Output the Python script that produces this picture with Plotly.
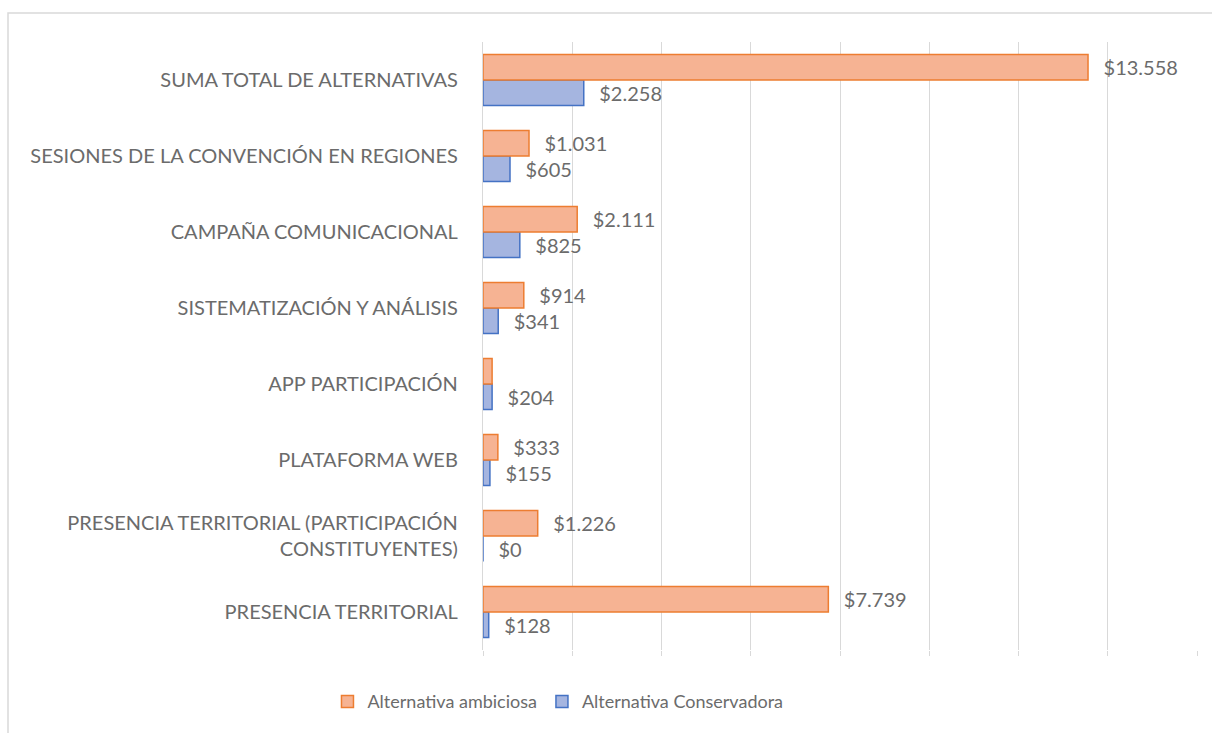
import plotly.graph_objects as go

categories = [
    "PRESENCIA TERRITORIAL",
    "PRESENCIA TERRITORIAL (PARTICIPACIÓN<br>CONSTITUYENTES)",
    "PLATAFORMA WEB",
    "APP PARTICIPACIÓN",
    "SISTEMATIZACIÓN Y ANÁLISIS",
    "CAMPAÑA COMUNICACIONAL",
    "SESIONES DE LA CONVENCIÓN EN REGIONES",
    "SUMA TOTAL DE ALTERNATIVAS",
]
ambiciosa = [7739, 1226, 333, 204, 914, 2111, 1031, 13558]
ambiciosa_labels = ["$7.739", "$1.226", "$333", "", "$914", "$2.111", "$1.031", "$13.558"]
conservadora = [128, 0, 155, 204, 341, 825, 605, 2258]
conservadora_labels = ["$128", "$0", "$155", "$204", "$341", "$825", "$605", "$2.258"]

FONT = "Lato"
GRAY = "#6b6b6b"
PAD = "\u2002\u2009"

fig = go.Figure()
fig.add_trace(go.Bar(
    y=categories, x=conservadora, orientation="h", name="Alternativa Conservadora",
    marker=dict(color="#A5B5E0", line=dict(color="#4472C4", width=1.5)),
    text=[PAD + t if t else "" for t in conservadora_labels], textposition="outside", cliponaxis=False,
    textfont=dict(family=FONT, size=20, color=GRAY),
))
fig.add_trace(go.Bar(
    y=categories, x=ambiciosa, orientation="h", name="Alternativa ambiciosa",
    marker=dict(color="#F6B393", line=dict(color="#ED7D31", width=1.5)),
    text=[PAD + t if t else "" for t in ambiciosa_labels], textposition="outside", cliponaxis=False,
    textfont=dict(family=FONT, size=20, color=GRAY),
))

fig.update_layout(
    width=1212, height=733,
    barmode="group", bargap=0.33, bargroupgap=0,
    plot_bgcolor="white", paper_bgcolor="white",
    margin=dict(l=483, r=15, t=42, b=83),
    font=dict(family=FONT, color=GRAY, size=20),
    xaxis=dict(range=[0, 16000], dtick=2000, showgrid=True, gridcolor="#D9D9D9", gridwidth=1.3,
               showticklabels=False, zeroline=False, ticks="outside", ticklen=5, tickcolor="#D9D9D9",
               showline=False),
    yaxis=dict(showgrid=False, ticks="", showline=True, linecolor="#D9D9D9", linewidth=1.3,
               tickfont=dict(family=FONT, size=20, color=GRAY), ticklabelstandoff=20),
    legend=dict(orientation="h", x=0.105, xanchor="center", xref="paper", y=-0.085, yanchor="middle",
                traceorder="reversed", font=dict(family=FONT, size=18, color=GRAY),
                itemwidth=30),
    showlegend=True,
)
fig.add_shape(type="rect", xref="paper", yref="paper",
              x0=(8 - 483) / 714, x1=(1215 - 483) / 714, y0=(650 - 738) / 608, y1=(650 - 13) / 608,
              line=dict(color="#D9D9D9", width=1.5), fillcolor="rgba(0,0,0,0)", layer="below")

fig.write_html("out.html")
